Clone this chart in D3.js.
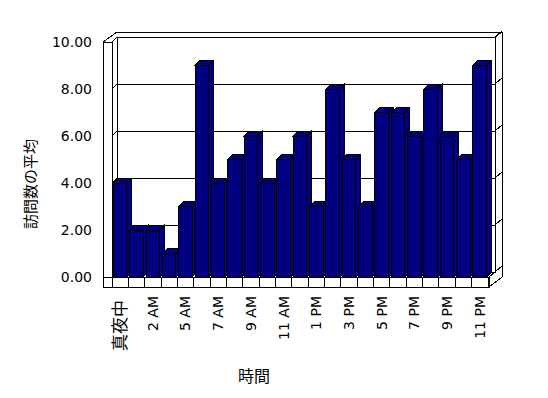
<!DOCTYPE html>
<html><head><meta charset="utf-8">
<script src="https://cdn.jsdelivr.net/npm/d3@7"></script>
<style>
html,body{margin:0;padding:0;background:#fff;}
svg{display:block;}
text{font-family:"DejaVu Sans","Noto Sans CJK JP",sans-serif;font-size:14px;fill:#000;}
</style></head>
<body>
<svg id="chart" width="548" height="398"></svg>
<script>
const categories = ["真夜中","1 AM","2 AM","3 AM","5 AM","6 AM","7 AM","8 AM","9 AM","10 AM","11 AM","12 PM","1 PM","2 PM","3 PM","4 PM","5 PM","6 PM","7 PM","8 PM","9 PM","10 PM","11 PM"];
const values = [4,2,2,1,3,9,4,5,6,4,5,6,3,8,5,3,7,7,6,8,6,5,9];
const yTicks = [0,2,4,6,8,10];
const xTickLabels = categories.filter((d,i)=>i%2===0);
const yTitle = "訪問数の平均";
const xTitle = "時間";

const svg = d3.select("#chart");
const g = svg.append("g").attr("shape-rendering","crispEdges");

const x = d3.scaleBand().domain(categories).range([112,488]).padding(0);
const y = d3.scaleLinear().domain([0,10]).range([277,42]);
const DX = 5, DY = -5;          // depth of bars / inner plot
const wallL = 103, backL = 117, backR = 495, outerR = 502, outerTop = 32;
const floorBottom = 287;
const line = (x1,y1,x2,y2)=>g.append("line").attr("x1",x1).attr("y1",y1).attr("x2",x2).attr("y2",y2).attr("stroke","#000").attr("stroke-width",1);

// back wall
g.append("rect").attr("x",backL).attr("y",y(10)+DY).attr("width",backR-backL).attr("height",y(0)-y(10))
  .attr("fill","#fff").attr("stroke","#000");
// outer frame of walls
line(wallL,y(10),backL,outerTop);
line(backL,outerTop,outerR,outerTop);
line(backR,y(10)+DY,outerR,outerTop);
line(outerR,outerTop,outerR,277);
line(outerR,277,488+1,floorBottom);
line(488+1,y(0),backR,y(0)+DY);
// left wall
g.append("rect").attr("x",wallL).attr("y",y(10)).attr("width",x.range()[0]-wallL).attr("height",floorBottom-y(10))
  .attr("fill","#fff").attr("stroke","#000");
line(x.range()[0],y(10),backL,y(10)+DY);
// gridlines
yTicks.forEach(v=>{
  line(x.range()[0],y(v),backL,y(v)+DY);
  line(backL,y(v)+DY,backR,y(v)+DY);
  line(backR,y(v)+DY,outerR,y(v)+DY-6);
});

// bars
const bw = x.bandwidth()*0.83, off = x.bandwidth()*0.08;
const bars = g.selectAll("g.bar").data(categories.map((c,i)=>({c,v:values[i]}))).enter().append("g").attr("class","bar");
bars.each(function(d){
  const b = d3.select(this);
  const x0 = x(d.c)+off, x1 = x0+bw, yt = y(d.v), yb = y(0);
  b.append("path").attr("d",`M${x0},${yt}L${x0+DX},${yt+DY}L${x1+DX},${yt+DY}L${x1},${yt}Z`)
    .attr("fill","#000080").attr("stroke","#000");
  b.append("path").attr("d",`M${x1},${yt}L${x1+DX},${yt+DY}L${x1+DX},${yb+DY}L${x1},${yb}Z`)
    .attr("fill","#000080").attr("stroke","#000");
  b.append("rect").attr("x",x0).attr("y",yt).attr("width",bw).attr("height",yb-yt)
    .attr("fill","#000080").attr("stroke","#000");
});

// floor front face
g.append("rect").attr("x",wallL).attr("y",y(0)).attr("width",489-wallL).attr("height",floorBottom-y(0))
  .attr("fill","#fff").attr("stroke","#000");
categories.forEach(c=>line(x(c),y(0),x(c),floorBottom));
line(x.range()[1],y(0),x.range()[1],floorBottom);

// y axis labels
const yAxis = svg.append("g").attr("transform",`translate(${wallL},0)`)
  .call(d3.axisLeft(y).tickValues(yTicks).tickFormat(d3.format(".2f")).tickSize(0).tickPadding(11));
yAxis.select(".domain").remove();
yAxis.selectAll("text").style("font-family",'"DejaVu Sans",sans-serif').style("font-size","14px");

// x axis labels
const isCJK = s => /[\u3000-\u9fff]/.test(s);
const xAxis = svg.append("g").attr("transform","translate(0,296)")
  .call(d3.axisBottom(x).tickValues(xTickLabels).tickSize(0));
xAxis.select(".domain").remove();
xAxis.selectAll("text").attr("transform","rotate(-90)")
  .attr("x",d=>isCJK(d)?-4:0).attr("y",0).attr("dy","0.35em")
  .attr("text-anchor","end")
  .style("font-family",d=>isCJK(d)?'"Noto Sans CJK JP",sans-serif':'"DejaVu Sans",sans-serif')
  .style("font-size",d=>isCJK(d)?"17px":"14px");

// titles
svg.append("text").attr("transform","translate(31,184) rotate(-90)").attr("text-anchor","middle").attr("dy","0.35em")
  .style("font-family",'"Noto Sans CJK JP",sans-serif').style("font-size","15px").text(yTitle);
svg.append("text").attr("x",254).attr("y",376).attr("text-anchor","middle").attr("dy","0.35em")
  .style("font-family",'"Noto Sans CJK JP",sans-serif').style("font-size","16px").text(xTitle);
</script>
</body></html>
